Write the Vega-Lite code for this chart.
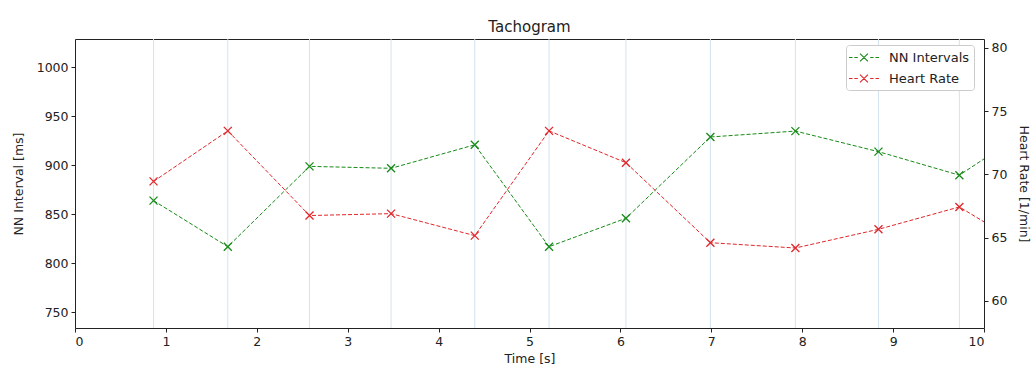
{
  "$schema": "https://vega.github.io/schema/vega-lite/v6.json",
  "autosize": {"type": "none"},
  "padding": {"left": 75, "top": 39, "right": 49, "bottom": 42},
  "width": 909,
  "height": 289,
  "background": "white",
  "title": {"text": "Tachogram", "fontSize": 15, "font": "DejaVu Sans", "fontWeight": "normal", "color": "#222", "offset": 4, "anchor": "middle"},
  "config": {
    "view": {"stroke": "#222", "strokeWidth": 1},
    "axis": {"domain": false, "grid": false, "tickColor": "#222", "tickSize": 4, "labelPadding": 3, "labelFont": "DejaVu Sans", "labelFontSize": 12.5, "labelColor": "#222", "titleFont": "DejaVu Sans", "titleFontSize": 12.5, "titleFontWeight": "normal", "titleColor": "#222"}
  },
  "data": {"values": [
    {"t": 0.864, "nn": 864, "hr": 69.44},
    {"t": 1.681, "nn": 817, "hr": 73.44},
    {"t": 2.580, "nn": 899, "hr": 66.74},
    {"t": 3.477, "nn": 897, "hr": 66.89},
    {"t": 4.398, "nn": 921, "hr": 65.15},
    {"t": 5.215, "nn": 817, "hr": 73.44},
    {"t": 6.061, "nn": 846, "hr": 70.92},
    {"t": 6.990, "nn": 929, "hr": 64.59},
    {"t": 7.925, "nn": 935, "hr": 64.17},
    {"t": 8.839, "nn": 914, "hr": 65.65},
    {"t": 9.729, "nn": 890, "hr": 67.42},
    {"t": 10.677, "nn": 948, "hr": 63.29}
  ]},
  "layer": [
    {
      "mark": {"type": "rule", "color": "#d4e3ef", "strokeWidth": 1, "clip": true},
      "encoding": {
        "x": {"field": "t", "type": "quantitative", "scale": {"domain": [0, 10], "nice": false, "zero": false},
              "axis": {"title": "Time [s]", "values": [0,1,2,3,4,5,6,7,8,9,10], "format": "d", "titlePadding": 5}}
      }
    },
    {
      "mark": {"type": "line", "strokeWidth": 1, "strokeDash": [4, 2], "clip": true,
               "point": {"shape": "M-1,-1L1,1M-1,1L1,-1", "size": 64, "filled": false, "strokeWidth": 1.3}},
      "encoding": {
        "x": {"field": "t", "type": "quantitative"},
        "y": {"field": "nn", "type": "quantitative", "scale": {"domain": [734, 1029], "nice": false, "zero": false},
              "axis": {"orient": "left", "title": "NN Interval [ms]", "values": [750,800,850,900,950,1000], "format": "d", "titlePadding": 11}},
        "color": {"datum": "NN Intervals", "type": "nominal",
                  "scale": {"domain": ["NN Intervals", "Heart Rate"], "range": ["#178a17", "#e0262a"]},
                  "legend": {"title": null, "orient": "none", "legendX": 771, "legendY": 6,
                             "symbolType": "M-1.27,0L-0.8,0M-0.55,0L-0.1,0M1.56,0L2.0,0M2.27,0L2.73,0M0.2,-0.53L1.26,0.53M0.2,0.53L1.26,-0.53",
                             "symbolSize": 225, "symbolStrokeWidth": 1.1, "symbolFillColor": "transparent",
                             "labelFont": "DejaVu Sans", "labelFontSize": 13, "labelColor": "#222", "labelOffset": 22,
                             "rowPadding": 5, "padding": 4, "fillColor": "white", "strokeColor": "#cccccc", "cornerRadius": 3}}
      }
    },
    {
      "mark": {"type": "line", "strokeWidth": 1, "strokeDash": [4, 2], "clip": true,
               "point": {"shape": "M-1,-1L1,1M-1,1L1,-1", "size": 64, "filled": false, "strokeWidth": 1.3}},
      "encoding": {
        "x": {"field": "t", "type": "quantitative"},
        "y": {"field": "hr", "type": "quantitative", "scale": {"domain": [57.84, 80.71], "nice": false, "zero": false},
              "axis": {"orient": "right", "title": "Heart Rate [1/min]", "values": [60,65,70,75,80], "titlePadding": 10}},
        "color": {"datum": "Heart Rate", "type": "nominal"}
      }
    }
  ],
  "resolve": {"scale": {"y": "independent"}}
}
